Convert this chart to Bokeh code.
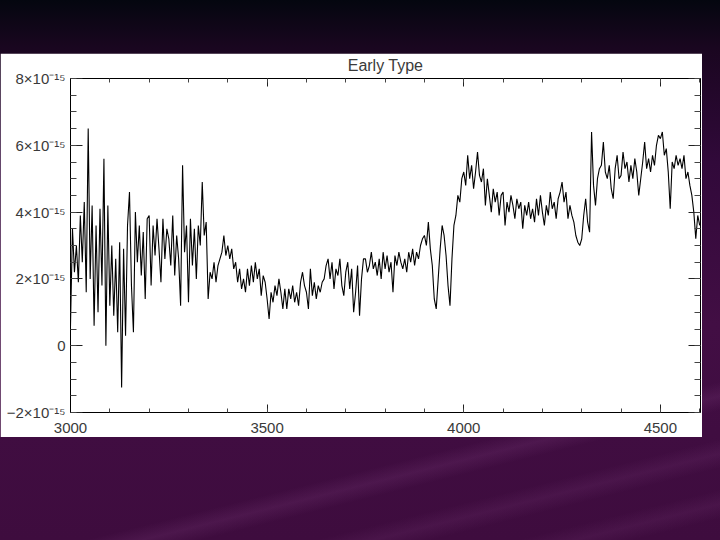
from bokeh.plotting import figure
from bokeh.models import FixedTicker, LinearAxis, Range1d, Spacer
from bokeh.layouts import column
from bokeh.embed import file_html
from bokeh.resources import INLINE

# ---------------- data (flux in units of 1e-15) ----------------
wave_start = 3000
wave_step = 5
flux_e15 = [
    0.6, 3.5, 2.2, 3.0, 1.9, 3.9, 2.5, 4.3, 1.6, 6.5,
    2.0, 4.2, 0.6, 3.6, 1.0, 4.1, 1.8, 5.6, 0.0, 4.2,
    1.2, 3.0, 0.9, 2.6, 0.4, 3.1, -1.25, 2.9, 0.3, 3.6,
    4.6, 1.8, 0.4, 4.0, 2.5, 3.6, 2.1, 3.4, 1.4, 3.8,
    3.9, 1.8, 3.6, 2.7, 3.8, 2.9, 1.9, 3.8, 2.6, 3.5,
    3.2, 2.4, 3.9, 2.1, 3.3, 2.6, 1.2, 5.4, 2.8, 3.6,
    1.3, 3.8, 2.4, 3.5, 2.0, 3.6, 3.0, 4.9, 3.3, 3.7,
    1.4, 2.2, 2.0, 2.5, 1.9, 2.4, 2.6, 2.8, 3.3, 2.7,
    3.0, 2.6, 2.9, 2.3, 2.5, 1.9, 2.3, 1.7, 2.0, 1.6,
    2.3, 1.8, 2.4, 1.9, 2.5, 2.0, 2.3, 1.5, 2.1, 1.9,
    1.4, 0.8, 1.6, 1.3, 1.8, 1.5, 2.0, 1.6, 1.1, 1.7,
    1.1, 1.7, 1.4, 1.8, 1.3, 1.6, 1.2, 1.9, 2.2, 1.8,
    1.6, 1.1, 2.3, 1.5, 1.9, 1.4, 1.8, 1.6, 1.9, 2.0,
    2.4, 2.6, 2.0, 2.5, 1.7, 2.3, 2.1, 2.6, 1.8, 1.5,
    2.2, 2.5, 1.7, 2.3, 1.0, 1.6, 2.4, 0.9, 2.0, 2.6,
    2.6, 2.2, 2.4, 2.8, 2.3, 2.5, 2.1, 2.6, 2.0, 2.8,
    2.3, 2.7, 2.2, 2.5, 1.6, 2.7, 2.4, 2.8, 2.5, 2.3,
    2.6, 2.2, 2.8, 2.5, 2.9, 2.4, 2.8, 2.6, 3.0, 3.2,
    3.3, 3.0, 3.7, 2.9, 2.4, 1.4, 1.1, 2.0, 2.9, 3.6,
    3.3, 2.7, 1.8, 1.2, 2.6, 3.6, 3.9, 4.5, 4.3, 5.0,
    5.2, 4.8, 5.7, 5.0, 5.4, 4.7, 5.2, 5.8, 5.1, 4.9,
    5.3, 4.2, 5.0, 4.5, 4.0, 4.7, 4.3, 4.6, 3.9, 4.5,
    4.6, 3.6, 4.3, 4.0, 4.5, 4.2, 3.8, 4.4, 4.1, 4.3,
    3.5, 4.2, 3.9, 4.3, 3.8, 4.1, 3.7, 4.4, 3.9, 4.5,
    4.0, 3.6, 4.2, 3.9, 4.6, 4.1, 4.3, 3.8, 4.4, 4.6,
    4.9, 4.3, 4.6, 3.8, 4.2, 3.9, 3.7, 3.3, 3.1, 3.0,
    3.2, 3.9, 4.4, 3.7, 3.4, 6.4, 4.8, 4.2, 5.0, 5.3,
    5.4, 6.1, 5.2, 5.0, 5.4, 4.7, 4.4, 5.3, 5.7, 5.0,
    5.1, 5.8, 5.3, 5.5, 4.9, 5.4, 5.0, 5.6, 5.2, 4.5,
    5.0, 5.5, 6.1, 5.3, 5.6, 5.2, 5.7, 5.4, 6.0, 6.3,
    6.2, 6.4, 5.7, 5.9, 5.2, 4.1, 5.5, 5.3, 5.7, 5.4,
    5.6, 5.3, 5.7, 5.0, 5.2, 4.8, 4.5, 4.0, 3.2, 3.9,
    3.6,
]
wavelength = [wave_start + wave_step * i for i in range(len(flux_e15))]

title_text = "Early Type"
x_lo, x_hi = 3000, 4602
y_lo, y_hi = -2, 8
x_major = [3000, 3500, 4000, 4500]
x_minor = [3000, 3100, 3200, 3300, 3400, 3500, 3600, 3700, 3800, 3900,
           4000, 4100, 4200, 4300, 4400, 4500, 4600]
y_major = [-2, 0, 2, 4, 6, 8]
y_labels = ["\u22122\u00d710\u207b\u00b9\u2075", "0", "2\u00d710\u207b\u00b9\u2075",
            "4\u00d710\u207b\u00b9\u2075", "6\u00d710\u207b\u00b9\u2075", "8\u00d710\u207b\u00b9\u2075"]
y_minor = [-2, -1.5, -1, -0.5, 0, 0.5, 1, 1.5, 2, 2.5, 3, 3.5, 4, 4.5,
           5, 5.5, 6, 6.5, 7, 7.5, 8]

FONT = "Liberation Sans"
TXT = "#3a3a3a"

p = figure(width=702, height=384, output_backend="svg", toolbar_location=None,
           x_range=Range1d(x_lo, x_hi), y_range=Range1d(y_lo, y_hi),
           x_axis_location=None, y_axis_location=None,
           min_border_left=70, min_border_right=2, min_border_top=22, min_border_bottom=25,
           background_fill_color="white", border_fill_color="white",
           outline_line_color="black", outline_line_width=1)
p.xgrid.visible = False
p.ygrid.visible = False


def style(ax, major_in, minor_in, standoff):
    ax.major_tick_in = major_in
    ax.major_tick_out = 0
    ax.minor_tick_in = minor_in
    ax.minor_tick_out = 0
    ax.axis_line_color = "black"
    ax.major_tick_line_color = "#222222"
    ax.minor_tick_line_color = "#444444"
    ax.major_label_text_font = FONT
    ax.major_label_text_color = TXT
    ax.major_label_standoff = standoff


xt = FixedTicker(ticks=x_major, minor_ticks=x_minor)
yt = FixedTicker(ticks=y_major, minor_ticks=y_minor)

bottom = LinearAxis(ticker=xt)
style(bottom, 8, 4, 10)
bottom.major_label_text_font_size = "15px"

# top axis: inward ticks only, its axis label carries the chart title
top = LinearAxis(ticker=xt, major_label_overrides={t: "" for t in x_major},
                 axis_label=title_text)
style(top, 8, 4, 0)
top.major_label_text_font_size = "1px"
top.axis_label_text_font = FONT
top.axis_label_text_font_style = "normal"
top.axis_label_text_font_size = "16px"
top.axis_label_text_color = TXT
top.axis_label_standoff = 5

left = LinearAxis(ticker=yt, major_label_overrides=dict(zip(y_major, y_labels)))
style(left, 12, 6, 5)
left.major_label_text_font_size = "15px"

right = LinearAxis(ticker=yt, major_label_overrides={t: "" for t in y_major})
style(right, 12, 6, 0)
right.major_label_text_font_size = "1px"

p.add_layout(bottom, "below")
p.add_layout(top, "above")
p.add_layout(left, "left")
p.add_layout(right, "right")

p.line(wavelength, flux_e15, line_color="black", line_width=1.1)

layout = column(Spacer(width=702, height=53), p)

template = """
{% block preamble %}
<style>
html {
  min-height: 100%;
  background:
    linear-gradient(166deg, rgba(0,0,0,0) 78%, rgba(150,80,150,0.16) 80%, rgba(0,0,0,0) 82%,
                    rgba(0,0,0,0) 86%, rgba(150,80,150,0.13) 88%, rgba(0,0,0,0) 90%,
                    rgba(0,0,0,0) 93%, rgba(150,80,150,0.12) 95%, rgba(0,0,0,0) 97%),
    linear-gradient(180deg, #04060f 0%, #1a0620 9%, #31093a 30%, #420e44 60%, #3e0c3e 100%);
  background-attachment: fixed;
}
body { background: transparent; }
</style>
{% endblock %}
"""

html = file_html(layout, INLINE, title="Early Type", template=template)
open("out.html", "w").write(html)
